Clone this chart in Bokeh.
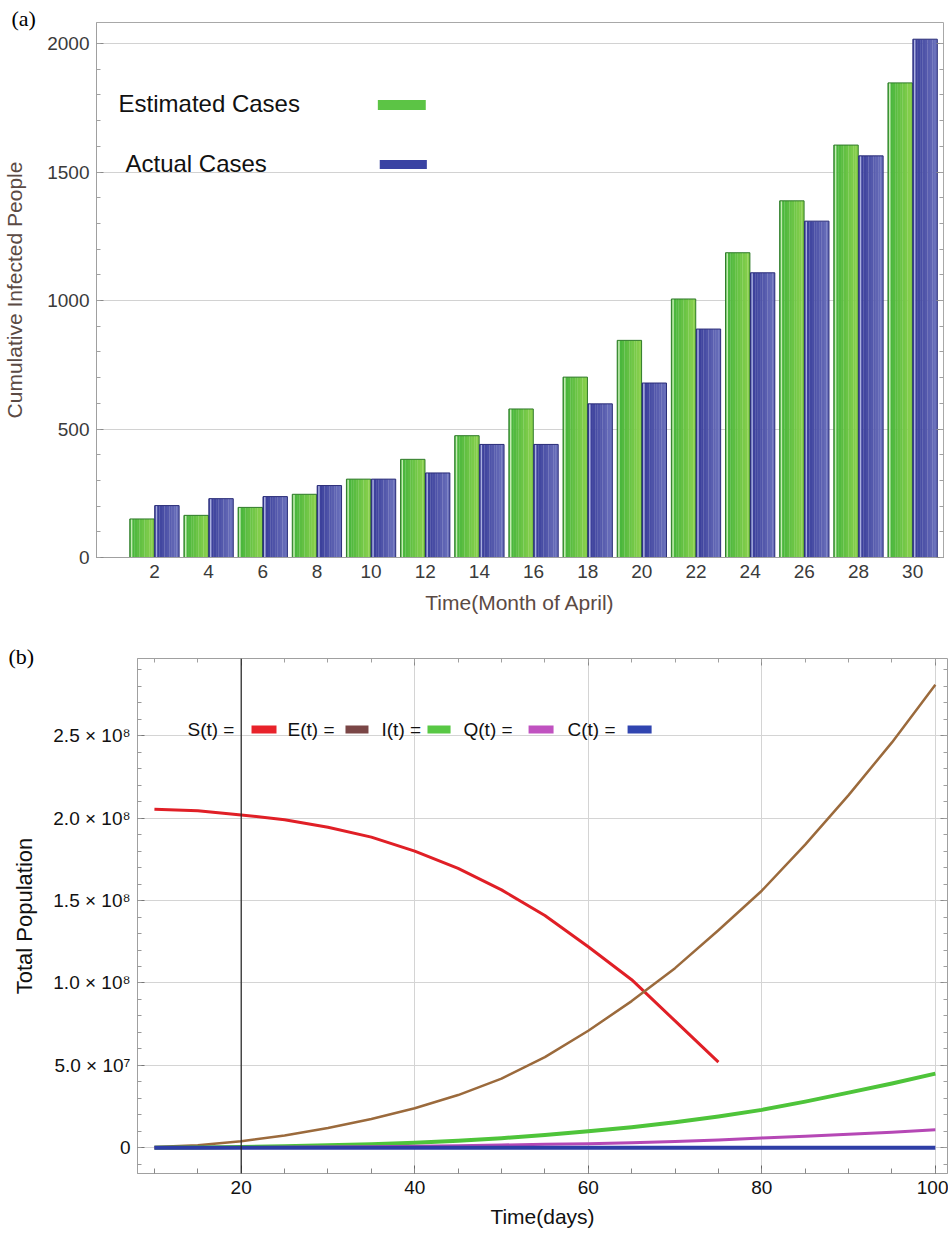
import numpy as np
from bokeh.plotting import figure
from bokeh.layouts import column
from bokeh.models import (Range1d, FixedTicker, LinearAxis, Label, BoxAnnotation,
                          Span, CustomJSTickFormatter, Title)
from bokeh.embed import file_html
from bokeh.resources import INLINE

# ---------------- data: panel (a) ----------------
april_days = [2, 4, 6, 8, 10, 12, 14, 16, 18, 20, 22, 24, 26, 28, 30]
estimated_cases = [150, 164, 195, 246, 305, 382, 474, 578, 702, 845, 1006, 1186, 1388, 1605, 1847]
actual_cases = [202, 229, 237, 280, 305, 329, 440, 440, 598, 679, 889, 1108, 1309, 1563, 2017]
count_ticks = [0, 500, 1000, 1500, 2000]

# ---------------- data: panel (b) ----------------
t_days = [10, 15, 20, 25, 30, 35, 40, 45, 50, 55, 60, 65, 70, 75, 80, 85, 90, 95, 100]
t_susceptible = [10, 15, 20, 25, 30, 35, 40, 45, 50, 55, 60, 65, 70, 75]
S_t = [2.055e8, 2.045e8, 2.02e8, 1.99e8, 1.945e8, 1.885e8, 1.80e8, 1.695e8, 1.565e8,
       1.41e8, 1.22e8, 1.02e8, 0.77e8, 0.52e8]
E_t = [0.05e7, 0.15e7, 0.4e7, 0.75e7, 1.2e7, 1.75e7, 2.4e7, 3.2e7, 4.2e7, 5.5e7, 7.1e7,
       8.9e7, 10.9e7, 13.2e7, 15.6e7, 18.4e7, 21.4e7, 24.6e7, 28.1e7]
I_t = [0.0, 0.2e6, 0.5e6, 1.0e6, 1.5e6, 2.2e6, 3.0e6, 4.2e6, 5.8e6, 7.8e6, 1.0e7,
       1.25e7, 1.55e7, 1.9e7, 2.3e7, 2.8e7, 3.35e7, 3.9e7, 4.5e7]
Q_t = [0.0, 0.1e6, 0.2e6, 0.35e6, 0.5e6, 0.7e6, 1.0e6, 1.3e6, 1.7e6, 2.1e6, 2.5e6,
       3.1e6, 3.8e6, 4.8e6, 6.0e6, 7.0e6, 8.2e6, 9.5e6, 1.1e7]
C_t = [0.0, 0.0, 0.0, 0.0, 0.0, 0.0, 0.0, 0.0, 0.0, 0.0, 0.0,
       0.0, 0.0, 0.0, 0.0, 0.0, 0.0, 0.0, 0.0]
pop_ticks = [0, 50000000, 100000000, 150000000, 200000000, 250000000]
pop_tick_labels = ["0", "5.0 × 10⁷", "1.0 × 10⁸", "1.5 × 10⁸", "2.0 × 10⁸", "2.5 × 10⁸"]
time_ticks = [20, 40, 60, 80, 100]

FONT = "Liberation Sans"
SERIF = "Liberation Serif"


def _rgb(h):
    h = h.lstrip("#")
    return np.array([int(h[i:i + 2], 16) for i in (0, 2, 4)], dtype=float)


def mix(c0, c1, f):
    c = _rgb(c0) * (1 - f) + _rgb(c1) * f
    return "#%02x%02x%02x" % tuple(int(round(v)) for v in c)


def empty_axis(ticker, tick_in, minor_in=0):
    ax = LinearAxis(ticker=ticker, formatter=CustomJSTickFormatter(code="return ''"))
    ax.major_tick_in = tick_in
    ax.major_tick_out = 0
    ax.minor_tick_in = minor_in
    ax.minor_tick_out = 0
    ax.major_label_standoff = 0
    ax.major_label_text_font_size = "1px"
    ax.axis_line_color = None
    ax.major_tick_line_color = "#8a8a8a"
    ax.minor_tick_line_color = "#a0a0a0"
    return ax


def panel_tag(text, offset, standoff):
    return Title(text=text, align="left", offset=offset, vertical_align="top",
                 standoff=standoff, text_font=SERIF, text_font_size="22px",
                 text_font_style="normal", text_color="#000000")


# ================= panel (a) =================
p1 = figure(width=948, height=630, x_range=Range1d(-0.14, 31.14), y_range=Range1d(0, 2082),
            output_backend="svg", toolbar_location=None,
            min_border_left=93, min_border_right=5, min_border_top=22, min_border_bottom=73)
p1.frame_align = False
p1.outline_line_color = "#a8a8a8"
p1.xgrid.visible = False
p1.ygrid.ticker = FixedTicker(ticks=count_ticks[1:])
p1.ygrid.grid_line_color = "#d2d2d2"

BAR_W = 0.9
OFF = 0.46
N_STRIPS = 10
days = np.array(april_days, dtype=float)


def gradient_bars(p, centers, tops, c_left, c_right, highlight, outline):
    for k in range(N_STRIPS):
        f = (k + 0.5) / N_STRIPS
        xs = centers - BAR_W / 2 + f * BAR_W
        p.vbar(x=xs, top=tops, bottom=0, width=BAR_W / N_STRIPS * 1.08,
               fill_color=mix(c_left, c_right, f), line_color=None)
    p.vbar(x=centers - BAR_W / 2 + 0.07 * BAR_W, top=tops, bottom=0, width=0.06 * BAR_W,
           fill_color=highlight, line_color=None)
    p.vbar(x=centers, top=tops, bottom=0, width=BAR_W, fill_alpha=0,
           line_color=outline, line_width=1)


gradient_bars(p1, days - OFF, estimated_cases, "#3fb23a", "#8ed24e", "#c6ecb4", "#2f7a2a")
gradient_bars(p1, days + OFF, actual_cases, "#343896", "#6d73bd", "#aab0e0", "#2a2d78")

# axes
p1.yaxis.ticker = FixedTicker(ticks=count_ticks, minor_ticks=list(range(0, 2101, 100)))
p1.yaxis.major_tick_in = 7
p1.yaxis.major_tick_out = 0
p1.yaxis.minor_tick_in = 4
p1.yaxis.minor_tick_out = 0
p1.yaxis.axis_line_color = "#a0a0a0"
p1.yaxis.major_tick_line_color = "#8a8a8a"
p1.yaxis.minor_tick_line_color = "#a0a0a0"
p1.yaxis.major_label_text_font = FONT
p1.yaxis.major_label_text_font_size = "19px"
p1.yaxis.major_label_text_color = "#3a3a3a"
p1.yaxis.major_label_standoff = 7
p1.yaxis.axis_label = "Cumulative Infected People"
p1.yaxis.axis_label_text_font = FONT
p1.yaxis.axis_label_text_font_size = "21px"
p1.yaxis.axis_label_text_font_style = "normal"
p1.yaxis.axis_label_text_color = "#5b4a44"
p1.yaxis.axis_label_standoff = 18

p1.xaxis.ticker = FixedTicker(ticks=april_days)
p1.xaxis.major_tick_in = 0
p1.xaxis.major_tick_out = 0
p1.xaxis.minor_tick_in = 0
p1.xaxis.minor_tick_out = 0
p1.xaxis.axis_line_color = "#a0a0a0"
p1.xaxis.major_label_text_font = FONT
p1.xaxis.major_label_text_font_size = "19px"
p1.xaxis.major_label_text_color = "#3a3a3a"
p1.xaxis.major_label_standoff = 7
p1.xaxis.axis_label = "Time(Month of April)"
p1.xaxis.axis_label_text_font = FONT
p1.xaxis.axis_label_text_font_size = "21px"
p1.xaxis.axis_label_text_font_style = "normal"
p1.xaxis.axis_label_text_color = "#5b4a44"
p1.xaxis.axis_label_standoff = 10

p1.add_layout(empty_axis(FixedTicker(ticks=count_ticks, minor_ticks=list(range(0, 2101, 100))), 7, 4), "right")
p1.add_layout(panel_tag("(a)", -85, -20), "above")

# legend (a)
p1.add_layout(Label(x=0.674, y=1768, text="Estimated Cases", text_font=FONT, text_font_size="24px",
                    text_color="#111111", text_baseline="middle", text_align="left"))
p1.add_layout(Label(x=0.93, y=1535, text="Actual Cases", text_font=FONT, text_font_size="24px",
                    text_color="#111111", text_baseline="middle", text_align="left"))
p1.add_layout(BoxAnnotation(left=10.25, right=12.02, bottom=1741, top=1780,
                            fill_color="#5cc445", fill_alpha=1, line_alpha=0))
p1.add_layout(BoxAnnotation(left=10.32, right=12.06, bottom=1512, top=1547,
                            fill_color="#3a43a3", fill_alpha=1, line_alpha=0))

# ================= panel (b) =================
p2 = figure(width=948, height=604, x_range=Range1d(8.05, 101.4), y_range=Range1d(-1.56e7, 2.969e8),
            output_backend="svg", toolbar_location=None,
            min_border_left=137, min_border_right=1, min_border_top=28, min_border_bottom=61)
p2.frame_align = False
p2.outline_line_color = "#a0a0a0"
p2.xgrid.ticker = FixedTicker(ticks=time_ticks)
p2.ygrid.ticker = FixedTicker(ticks=pop_ticks)
p2.xgrid.grid_line_color = "#d4d4d4"
p2.ygrid.grid_line_color = "#d4d4d4"

p2.line(t_susceptible, S_t, line_color="#e01f26", line_width=3, line_join="round")
p2.line(t_days, E_t, line_color="#9b6a3c", line_width=2.5, line_join="round")
p2.line(t_days, I_t, line_color="#4ec43a", line_width=4, line_join="round")
p2.line(t_days, Q_t, line_color="#b548b5", line_width=3, line_join="round")
p2.line(t_days, C_t, line_color="#2e3ea6", line_width=4, line_join="round")

p2.add_layout(Span(location=20, dimension="height", line_color="#222222", line_width=1.2))

minor_pop = list(np.arange(-1e7, 2.91e8, 1e7))
p2.yaxis.ticker = FixedTicker(ticks=pop_ticks, minor_ticks=minor_pop)
p2.yaxis.major_label_overrides = {t: s for t, s in zip(pop_ticks, pop_tick_labels)}
p2.yaxis.major_tick_in = 7
p2.yaxis.major_tick_out = 0
p2.yaxis.minor_tick_in = 4
p2.yaxis.minor_tick_out = 0
p2.yaxis.axis_line_color = "#a0a0a0"
p2.yaxis.major_tick_line_color = "#777777"
p2.yaxis.minor_tick_line_color = "#999999"
p2.yaxis.major_label_text_font = FONT
p2.yaxis.major_label_text_font_size = "19px"
p2.yaxis.major_label_text_color = "#111111"
p2.yaxis.major_label_standoff = 7
p2.yaxis.axis_label = "Total Population"
p2.yaxis.axis_label_text_font = FONT
p2.yaxis.axis_label_text_font_size = "22px"
p2.yaxis.axis_label_text_font_style = "normal"
p2.yaxis.axis_label_text_color = "#111111"
p2.yaxis.axis_label_standoff = 13

p2.xaxis.ticker = FixedTicker(ticks=time_ticks, minor_ticks=t_days)
p2.xaxis.major_tick_in = 8
p2.xaxis.major_tick_out = 0
p2.xaxis.minor_tick_in = 5
p2.xaxis.minor_tick_out = 0
p2.xaxis.axis_line_color = "#a0a0a0"
p2.xaxis.major_tick_line_color = "#666666"
p2.xaxis.minor_tick_line_color = "#888888"
p2.xaxis.major_label_text_font = FONT
p2.xaxis.major_label_text_font_size = "19px"
p2.xaxis.major_label_text_color = "#111111"
p2.xaxis.major_label_standoff = 7
p2.xaxis.axis_label = "Time(days)"
p2.xaxis.axis_label_text_font = FONT
p2.xaxis.axis_label_text_font_size = "21px"
p2.xaxis.axis_label_text_font_style = "normal"
p2.xaxis.axis_label_text_color = "#111111"
p2.xaxis.axis_label_standoff = 8

p2.add_layout(empty_axis(FixedTicker(ticks=time_ticks, minor_ticks=t_days), 7, 4), "above")
p2.add_layout(empty_axis(FixedTicker(ticks=pop_ticks, minor_ticks=minor_pop), 7, 4), "right")
p2.add_layout(panel_tag("(b)", -129, -24), "above")

# legend (b)
legend_items = [("S(t) =", 13.81, 21.19, 24.07, "#e8222a"),
                ("E(t) =", 25.34, 32.02, 34.67, "#7a4646"),
                ("I(t) =", 36.17, 41.47, 44.13, "#58c845"),
                ("Q(t) =", 45.62, 53.12, 56.0, "#c052c0"),
                ("C(t) =", 57.61, 64.53, 67.3, "#3045b0")]
for txt, tx, sl, sr, col in legend_items:
    p2.add_layout(Label(x=tx, y=2.538e8, text=txt, text_font=FONT, text_font_size="19px",
                        text_color="#111111", text_baseline="middle", text_align="left"))
    p2.add_layout(BoxAnnotation(left=sl, right=sr, bottom=2.514e8, top=2.562e8,
                                fill_color=col, fill_alpha=1, line_alpha=0))

layout = column(p1, p2, spacing=0)
open("out.html", "w").write(file_html(layout, INLINE))
